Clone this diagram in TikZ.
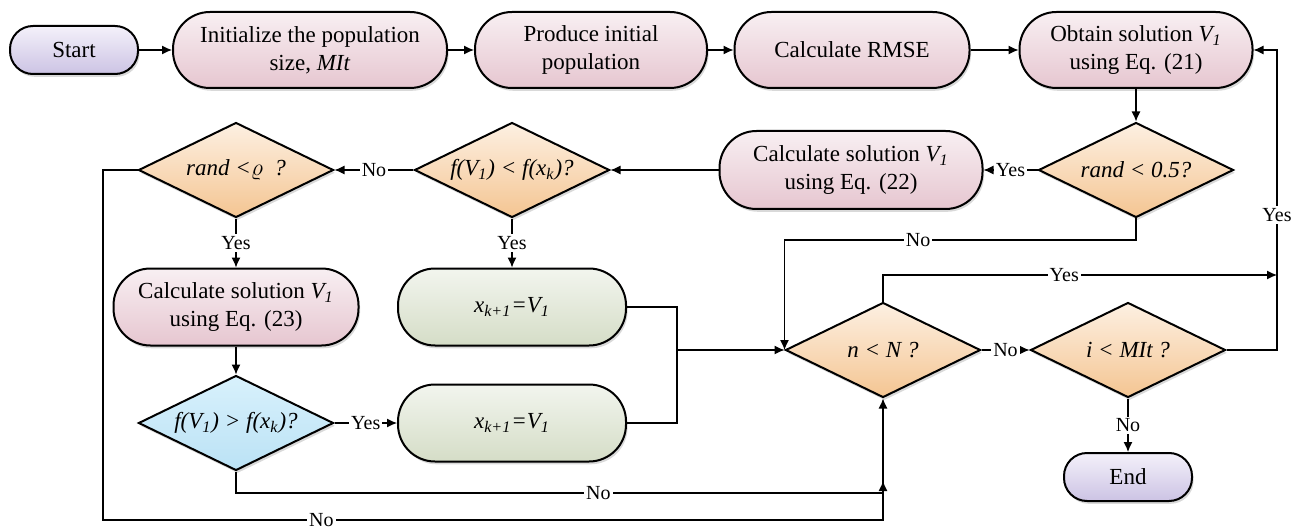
\documentclass[tikz,border=0pt]{standalone}
\usepackage{fontspec}
\setmainfont{Liberation Serif}
\usepackage{xcolor}
\usetikzlibrary{arrows.meta,shapes.geometric,shadows}

\definecolor{lavtop}{HTML}{F4F1FA}
\definecolor{lavbot}{HTML}{CCC3E4}
\definecolor{pinktop}{HTML}{F8EFF2}
\definecolor{pinkbot}{HTML}{E6C6D0}
\definecolor{greentop}{HTML}{F2F5EE}
\definecolor{greenbot}{HTML}{D5DDC7}
\definecolor{orgtop}{HTML}{FDF0E2}
\definecolor{orgbot}{HTML}{F4C592}
\definecolor{bluetop}{HTML}{D8F1FC}
\definecolor{bluebot}{HTML}{BBE2F5}

\begin{document}
\begin{tikzpicture}[>={Latex[length=5pt,width=4.5pt]},x=0.5pt,y=-0.5pt,line width=0.6pt,
    every node/.style={font=\fontsize{11.5}{14}\selectfont},
    box shadow/.style={drop shadow={shadow xshift=0.8pt,shadow yshift=-1.4pt,opacity=0.3}},
    term node/.style={draw,line width=1pt,rounded corners=11.5pt,minimum width=64pt,minimum height=24pt,top color=lavtop,bottom color=lavbot,box shadow},
    proc node/.style={draw,line width=1pt,rounded corners=18.5pt,minimum height=38pt,align=center,top color=pinktop,bottom color=pinkbot,box shadow},
    set node/.style={draw,line width=1pt,rounded corners=18.5pt,minimum width=114pt,minimum height=38.5pt,top color=greentop,bottom color=greenbot,box shadow},
    dec node/.style={diamond,aspect=2,draw,line width=1pt,minimum width=97.5pt,minimum height=47.5pt,inner sep=1pt,top color=orgtop,bottom color=orgbot,box shadow},
    test node/.style={dec node,top color=bluetop,bottom color=bluebot},
    lbl/.style={fill=white,inner sep=1pt,font=\fontsize{10}{11}\selectfont}]

    \useasboundingbox (0,0) rectangle (1305,529);

    % top row
    \node[term node] (start) at (74,50) {Start};
    \node[proc node,minimum width=137pt] (init) [node distance=118pt,right of=start] {Initialize the population\\size, \textit{MIt}};
    \node[proc node,minimum width=116pt] (produce) [node distance=140.5pt,right of=init] {Produce initial\\population};
    \node[proc node,minimum width=117.5pt] (rmse) [node distance=130.5pt,right of=produce] {Calculate RMSE};
    \node[proc node,minimum width=116.5pt] (obtain) [node distance=142pt,right of=rmse] {Obtain solution \textit{V\textsubscript{1}}\\using Eq. (21)};

    % second row
    \node[dec node] (randA) [node distance=60pt,below of=obtain] {\textit{rand < 0.5?}};
    \node[proc node,minimum width=131.5pt,minimum height=39pt] (calc22) [node distance=142.5pt,left of=randA] {Calculate solution \textit{V\textsubscript{1}}\\using Eq. (22)};
    \node[dec node] (fless) [node distance=169.5pt,left of=calc22] {\textit{f(V\textsubscript{1}) < f(x\textsubscript{k})?}};
    \node[dec node] (randB) [node distance=138pt,left of=fless] {\textit{rand <}$\varrho$\enspace\textit{?}};

    % lower left
    \node[proc node,minimum width=122.5pt,minimum height=38.5pt] (calc23) [node distance=68.5pt,below of=randB] {Calculate solution \textit{V\textsubscript{1}}\\using Eq. (23)};
    \node[set node] (xtop) [node distance=68.5pt,below of=fless] {\textit{x\textsubscript{k+1}=V\textsubscript{1}}};
    \node[test node] (blue) [node distance=58pt,below of=calc23] {\textit{f(V\textsubscript{1}) > f(x\textsubscript{k})?}};
    \node[set node] (xbot) [node distance=58pt,below of=xtop] {\textit{x\textsubscript{k+1}=V\textsubscript{1}}};

    % lower right
    \node[dec node] (nN) at (883,350) {\textit{n < N ?}};
    \node[dec node] (iM) [node distance=122.5pt,right of=nN] {\textit{i < MIt ?}};
    \node[term node] (endn) [node distance=63.5pt,below of=iM] {End};

    \coordinate (jx) at (677,350);
    \coordinate (nobend) at (787,240);
    \coordinate (loop) at (1277,350);
    \coordinate (yesrow) at (0,275);
    \coordinate (bjoin) at (883,493);
    \coordinate (obl) at (103,520);

    \draw[->] (start) -- (init);
    \draw[->] (init) -- (produce);
    \draw[->] (produce) -- (rmse);
    \draw[->] (rmse) -- (obtain);
    \draw[->] (obtain) -- (randA);
    \draw[->] (randA) -- node[lbl]{Yes} (calc22);
    \draw[->] (calc22) -- (fless);
    \draw[->] (fless) -- node[lbl]{No} (randB);
    \draw[->] (randB) -- node[lbl]{Yes} (calc23);
    \draw[->] (fless) -- node[lbl]{Yes} (xtop);
    \draw[->] (calc23) -- (blue);
    \draw[->] (blue) -- node[lbl]{Yes} (xbot);
    \draw (xtop.east) -| (jx);
    \draw (xbot.east) -| (jx);
    \draw[->] (jx) -- (nN.west);
    \draw[->] (randA.south) |- node[lbl,pos=0.81]{No} (nN.west |- nobend) -- (nN.west);
    \draw[->] (nN.north) |- node[lbl,pos=0.73]{Yes} (loop |- yesrow);
    \draw[->] (nN) -- node[lbl]{No} (iM);
    \draw[->] (iM) -- node[lbl]{No} (endn);
    \draw[->] (iM.east) -- (loop) -- node[lbl,pos=0.45]{Yes} (loop |- obtain) -- (obtain.east);
    \draw[->] (blue.south) |- node[lbl,pos=0.78]{No} (bjoin) -- ++(0,-12);
    \draw[->] (randB.west) -| (obl) -- node[lbl,pos=0.28]{No} (nN.south |- obl) -- (nN.south);
\end{tikzpicture}
\end{document}
